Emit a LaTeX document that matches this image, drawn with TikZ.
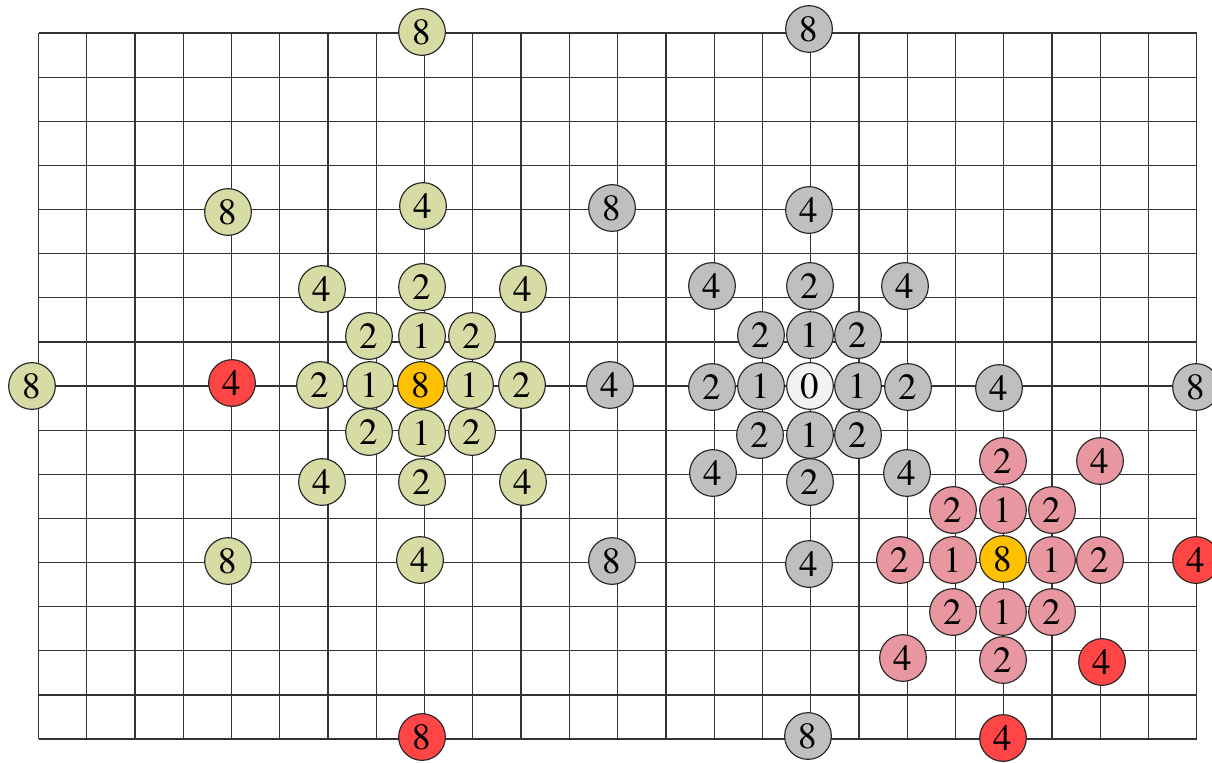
\documentclass[tikz,border=0pt]{standalone}
\usepackage{fontspec}
\newfontfamily\cellfont{texgyretermes-regular.otf}
\definecolor{olivecell}{HTML}{D6DCA4}
\definecolor{greycell}{HTML}{BFBFBF}
\definecolor{pinkcell}{HTML}{E8969F}
\definecolor{redcell}{HTML}{FF4545}
\definecolor{ambercell}{HTML}{FFC000}
\definecolor{blankcell}{HTML}{F2F2F2}
\tikzset{cell/.style={circle,draw=black!85,line width=0.65pt,minimum size=0.934cm,inner sep=0pt,font=\cellfont\fontsize{21}{21}\selectfont}}

\begin{document}
\begin{tikzpicture}[x=0.02cm,y=-0.02cm]
\useasboundingbox (0,0) rectangle (1212,762);
\foreach \i in {0,...,24}{\draw[black!80,line width=0.7pt] ({38.5+48.26*\i},33)--({38.5+48.26*\i},739);}
\foreach \j in {0,...,16}{\draw[black!80,line width=0.7pt] (38.5,{33+44.125*\j})--(1196.7,{33+44.125*\j});}
\foreach \x/\y/\lab [count=\i] in {422/336/1,422/433/1,370/385/1,470/385/1,369/336/2,472/336/2,369/432/2,472/432/2,422/287/2,422/482/2,320/385/2,522/385/2,322/289/4,523/289/4,322/482/4,523/482/4,423/206/4,420/560/4,228/212/8,228/561/8,32/386/8,422/32/8}{\node[cell,fill=olivecell] (g\i) at (\x,\y){\lab};}
\foreach \x/\y/\lab [count=\i] in {810/335/1,810/435/1,761/386/1,858/386/1,761/335/2,858/335/2,760/435/2,858/435/2,810/286/2,810/482/2,712/387/2,908/387/2,712/286/4,905/286/4,713/473/4,907/473/4,809/210/4,809/564/4,610/385/4,999/388/4,612/208/8,612/561/8,809/29/8,808/736/8,1196/387/8}{\node[cell,fill=greycell] (s\i) at (\x,\y){\lab};}
\foreach \x/\y/\lab [count=\i] in {1003/510/1,1003/612/1,953/560/1,1052/560/1,953/510/2,1052/510/2,953/612/2,1052/612/2,1003/461/2,1003/660/2,900/560/2,1100/560/2,1100/461/4,903/658/4}{\node[cell,fill=pinkcell] (p\i) at (\x,\y){\lab};}
\foreach \x/\y/\lab [count=\i] in {232/383/4,422/737/8,1102/662/4,1003/738/4,1196/560/4}{\node[cell,fill=redcell] (r\i) at (\x,\y){\lab};}
\node[cell,fill=ambercell] (srcleft) at (421,385){8};
\node[cell,fill=ambercell] (srcright) at (1003,559){8};
\node[cell,fill=blankcell] (origin) at (810,386){0};
\end{tikzpicture}
\end{document}
